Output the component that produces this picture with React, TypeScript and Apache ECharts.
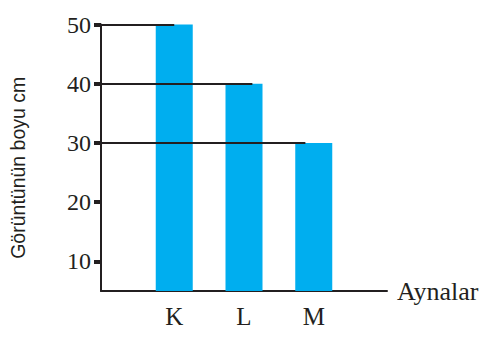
import React, { useEffect, useRef } from "react";
import * as echarts from "echarts";

const categories = ["K", "L", "M"];
const positions = [1, 2, 3];
const values = [50, 40, 30];
const lineEnds = [1.0, 2.12, 2.88];
const yTicks = [10, 20, 30, 40, 50];
const yName = "Görüntünün boyu cm";
const xName = "Aynalar";

const X_MIN = -0.05;
const X_MAX = 4.05;

export default function App() {
  const ref = useRef<HTMLDivElement>(null);
  useEffect(() => {
    if (!ref.current) return;
    const chart = echarts.init(ref.current, null, { renderer: "svg" });
    const serif = "'Liberation Serif', 'Times New Roman', serif";
    const sans = "'Liberation Sans', Arial, sans-serif";
    const ink = "#231f20";
    chart.setOption({
      animation: false,
      backgroundColor: "#ffffff",
      grid: { left: 101, right: 99, top: 24.5, bottom: 54 },
      xAxis: {
        type: "value",
        min: X_MIN,
        max: X_MAX,
        name: xName,
        nameLocation: "end",
        nameGap: 10,
        nameTextStyle: {
          fontFamily: serif,
          fontSize: 26,
          color: ink,
          padding: [20, 0, 0, 0],
        },
        axisLine: { show: true, onZero: false, lineStyle: { color: ink, width: 2 } },
        axisTick: { show: false },
        splitLine: { show: false },
        axisLabel: {
          customValues: positions,
          formatter: (v: number) => {
            const i = positions.indexOf(Math.round(v));
            return i >= 0 ? categories[i] : "";
          },
          fontFamily: serif,
          fontSize: 25,
          color: ink,
          margin: 13,
        },
      },
      yAxis: {
        type: "value",
        min: 5,
        max: 50,
        name: yName,
        nameLocation: "middle",
        nameGap: 73,
        nameRotate: 90,
        nameTextStyle: {
          fontFamily: sans,
          fontSize: 19.5,
          color: ink,
          padding: [0, 20, 0, 0],
        },
        axisLine: { show: true, onZero: false, lineStyle: { color: ink, width: 2 } },
        axisTick: {
          show: true,
          customValues: yTicks,
          length: 7,
          lineStyle: { color: ink, width: 4 },
        },
        splitLine: { show: false },
        axisLabel: {
          customValues: yTicks,
          fontFamily: serif,
          fontSize: 24,
          color: ink,
          margin: 10,
        },
      },
      series: [
        {
          type: "bar",
          data: positions.map((p, i) => [p, values[i]]),
          barWidth: 37,
          itemStyle: { color: "#00AEEF" },
          markLine: {
            silent: true,
            symbol: "none",
            label: { show: false },
            lineStyle: { color: ink, width: 2, type: "solid" },
            data: values.map((v, i) => [
              { coord: [X_MIN, v] },
              { coord: [lineEnds[i], v] },
            ]),
          },
        },
      ],
    });
    return () => chart.dispose();
  }, []);
  return (
    <div
      ref={ref}
      style={{ position: "fixed", left: 0, top: 0, width: 486, height: 345 }}
    />
  );
}
